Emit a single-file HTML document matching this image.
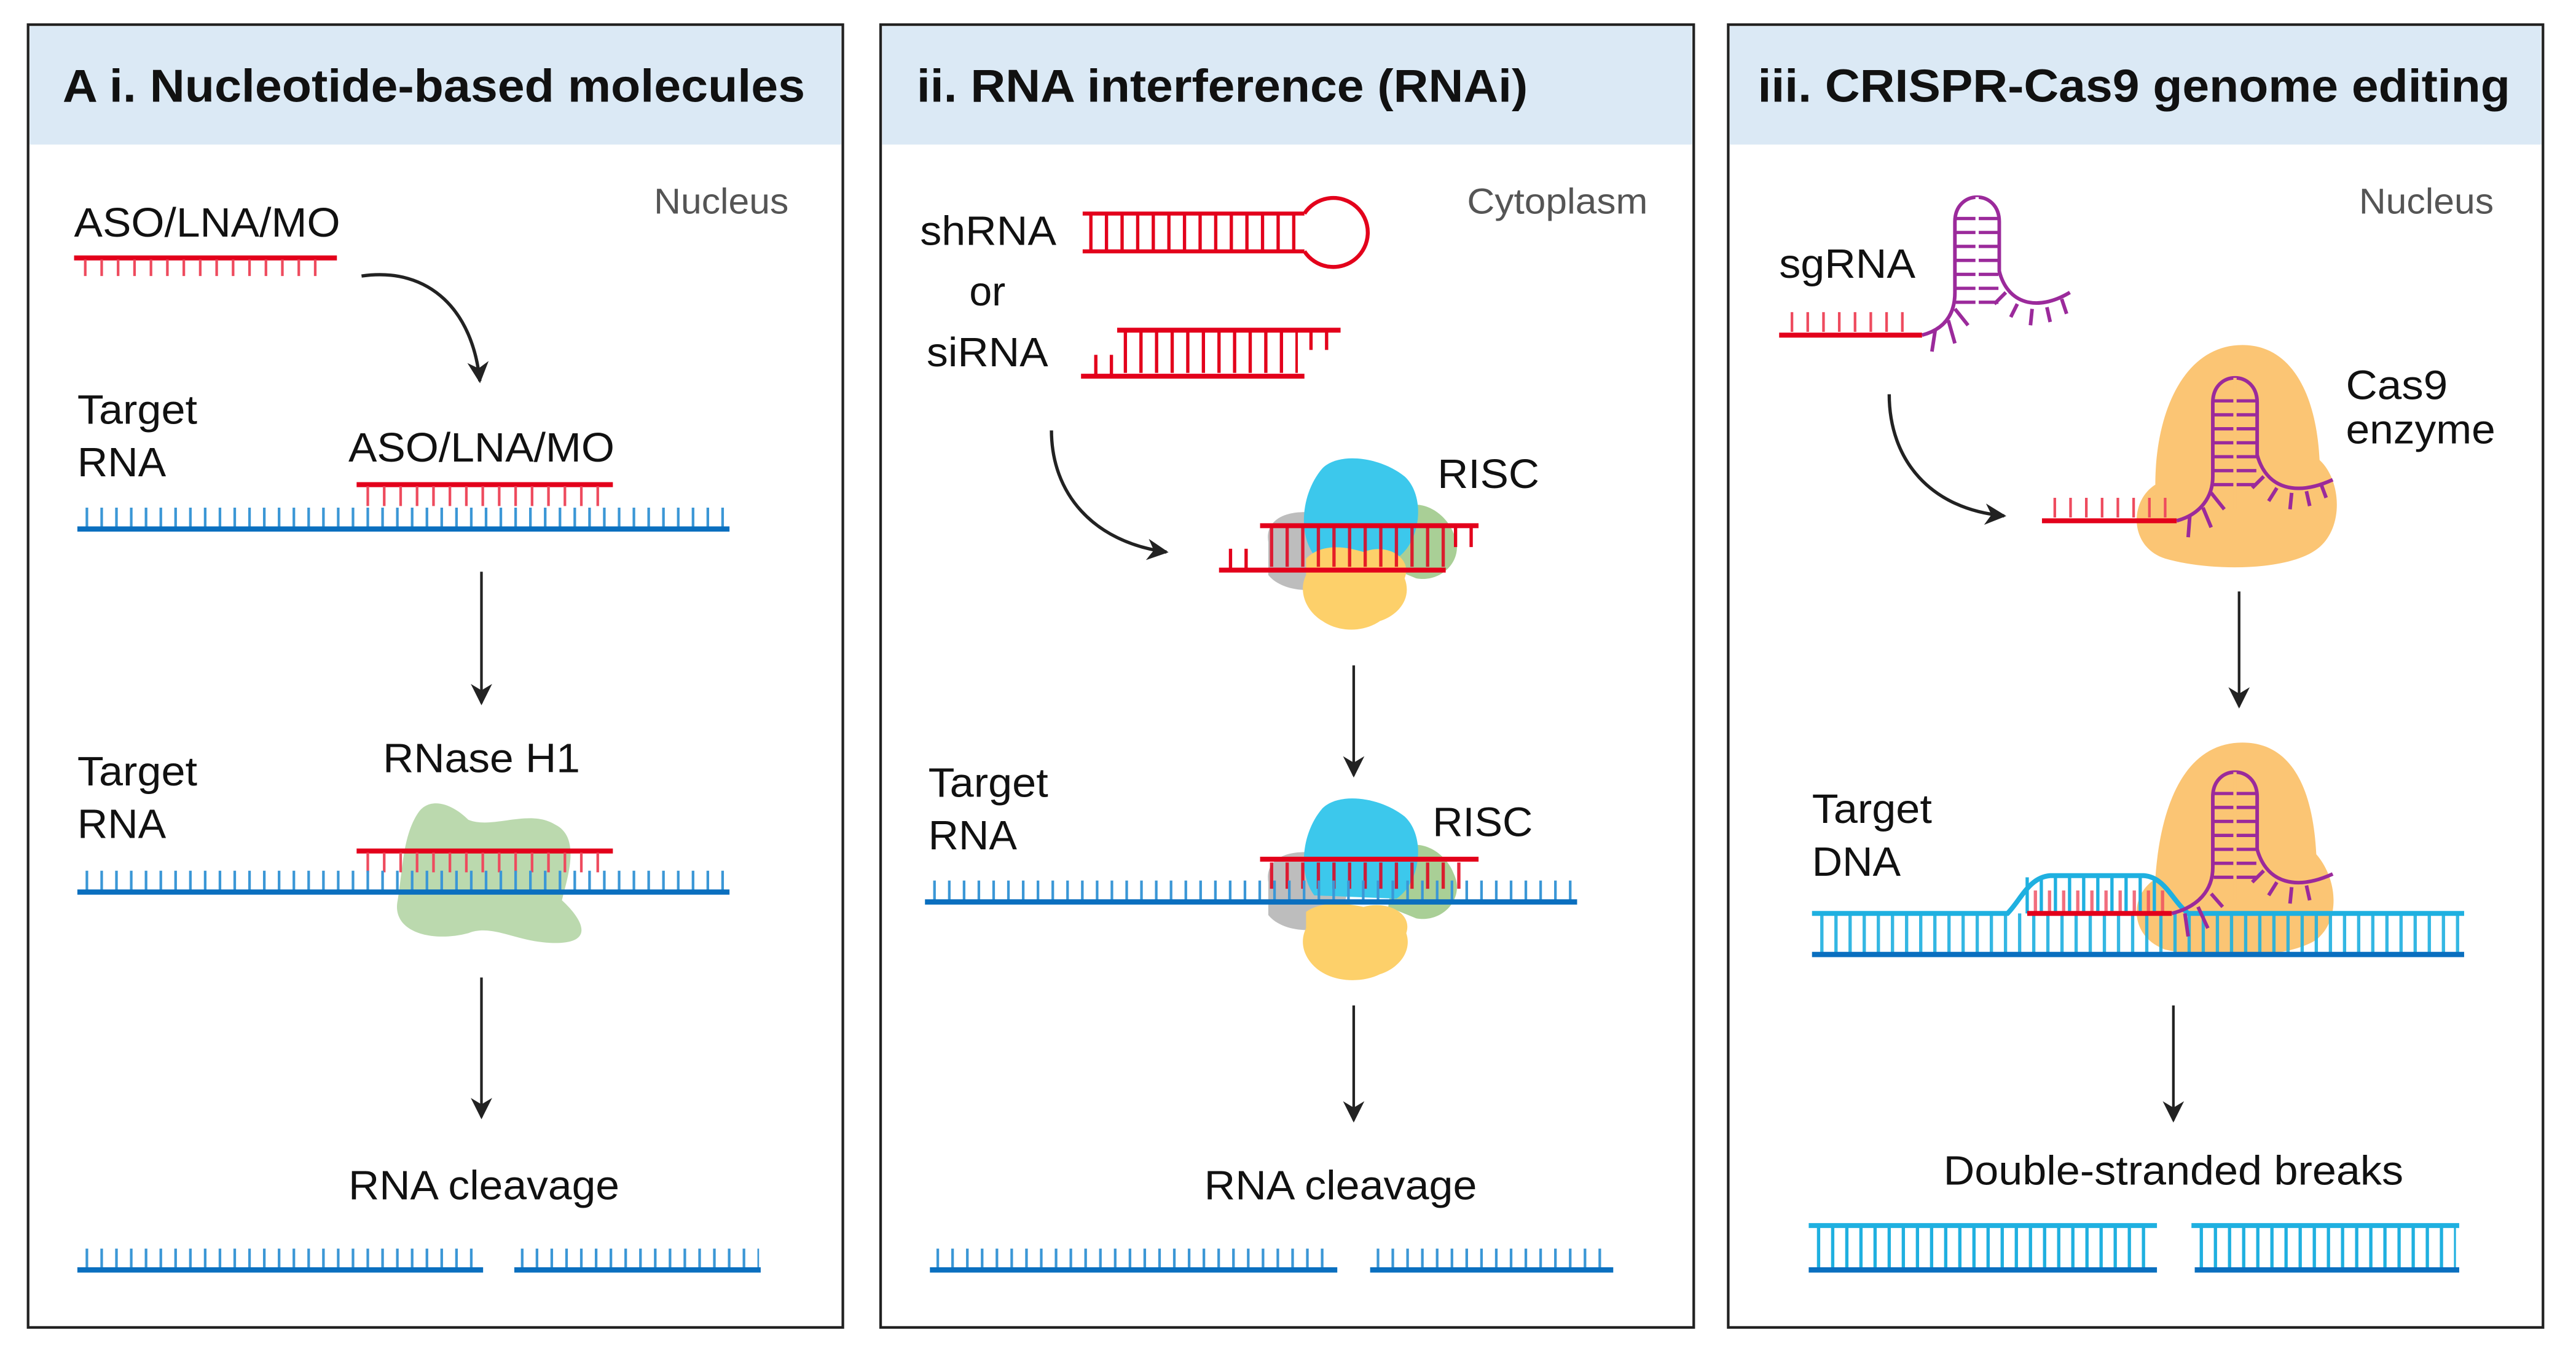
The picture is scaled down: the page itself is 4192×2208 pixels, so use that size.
<!DOCTYPE html>
<html><head><meta charset="utf-8"><style>
html,body{margin:0;padding:0;background:#fff;}
svg{display:block;}
text{font-family:"Liberation Sans",Arial,sans-serif;}
</style></head><body>
<svg width="4192" height="2208" viewBox="0 0 1568 826" xmlns="http://www.w3.org/2000/svg">
<defs>
<marker id="ah2" viewBox="0 0 10 10" refX="9" refY="5" markerWidth="13" markerHeight="13" orient="auto" markerUnits="userSpaceOnUse">
<path d="M0,0 L10,5 L0,10 L3,5 Z" fill="#222"/></marker>
</defs>
<rect width="1568" height="826" fill="#fff"/>

<!-- Panels -->
<g stroke="#222" stroke-width="1.6">
<rect x="17" y="15" width="496" height="793" fill="#fff"/>
<rect x="536" y="15" width="495" height="793" fill="#fff"/>
<rect x="1052" y="15" width="496" height="793" fill="#fff"/>
</g>
<rect x="18" y="16" width="494" height="72" fill="#dbe9f5"/>
<rect x="537" y="16" width="493" height="72" fill="#dbe9f5"/>
<rect x="1053" y="16" width="494" height="72" fill="#dbe9f5"/>
<g font-weight="bold" font-size="28" fill="#111" lengthAdjust="spacingAndGlyphs">
<text x="38" y="62" textLength="452" lengthAdjust="spacingAndGlyphs">A i. Nucleotide-based molecules</text>
<text x="558" y="62" textLength="372" lengthAdjust="spacingAndGlyphs">ii. RNA interference (RNAi)</text>
<text x="1070" y="62" textLength="458" lengthAdjust="spacingAndGlyphs">iii. CRISPR-Cas9 genome editing</text>
</g>
<g font-size="22" fill="#555">
<text x="398" y="130" textLength="82" lengthAdjust="spacingAndGlyphs">Nucleus</text>
<text x="893" y="130" textLength="110" lengthAdjust="spacingAndGlyphs">Cytoplasm</text>
<text x="1436" y="130" textLength="82" lengthAdjust="spacingAndGlyphs">Nucleus</text>
</g>

<!-- ===== Panel 1 ===== -->
<g font-size="25" fill="#111">
<text x="45" y="144" textLength="162" lengthAdjust="spacingAndGlyphs">ASO/LNA/MO</text>
<text x="47" y="258" textLength="73" lengthAdjust="spacingAndGlyphs">Target</text><text x="47" y="290" textLength="54" lengthAdjust="spacingAndGlyphs">RNA</text>
<text x="212" y="281" textLength="162" lengthAdjust="spacingAndGlyphs">ASO/LNA/MO</text>
<text x="47" y="478" textLength="73" lengthAdjust="spacingAndGlyphs">Target</text><text x="47" y="510" textLength="54" lengthAdjust="spacingAndGlyphs">RNA</text>
<text x="233" y="470" textLength="120" lengthAdjust="spacingAndGlyphs">RNase H1</text>
<text x="212" y="730" textLength="165" lengthAdjust="spacingAndGlyphs">RNA cleavage</text>
</g>
<line x1="45" y1="157" x2="205" y2="157" stroke="#e3001b" stroke-width="3"/>
<line x1="51" y1="163" x2="201" y2="163" stroke="#ee4b5e" stroke-width="10" stroke-dasharray="1.6 8.4"/>
<path d="M220 168 C262 162 288 190 292 232" fill="none" stroke="#222" stroke-width="2" marker-end="url(#ah2)"/>
<line x1="217" y1="295" x2="373" y2="295" stroke="#e3001b" stroke-width="3"/>
<line x1="223" y1="302" x2="370" y2="302" stroke="#ee4b5e" stroke-width="12" stroke-dasharray="1.6 8.4"/>
<line x1="52" y1="315" x2="442" y2="315" stroke="#3b97d6" stroke-width="12" stroke-dasharray="1.6 7.4"/>
<line x1="47" y1="322" x2="444" y2="322" stroke="#0a6fbf" stroke-width="3.2"/>
<line x1="293" y1="348" x2="293" y2="428" stroke="#222" stroke-width="1.6" marker-end="url(#ah2)"/>
<path d="M255 494 C262 485 275 489 285 499 C300 505 322 492 338 502 C354 510 345 535 342 548 C355 560 362 574 338 574 C315 574 300 562 285 568 C262 574 238 567 242 548 C245 530 245 508 255 494 Z" fill="#b7d7aa" opacity="0.95"/>
<line x1="217" y1="518" x2="373" y2="518" stroke="#e3001b" stroke-width="3"/>
<line x1="223" y1="525" x2="370" y2="525" stroke="#ee4b5e" stroke-width="12" stroke-dasharray="1.6 8.4"/>
<line x1="52" y1="536" x2="442" y2="536" stroke="#3b97d6" stroke-width="12" stroke-dasharray="1.6 7.4"/>
<line x1="47" y1="543" x2="444" y2="543" stroke="#0a6fbf" stroke-width="3.2"/>
<line x1="293" y1="595" x2="293" y2="680" stroke="#222" stroke-width="1.6" marker-end="url(#ah2)"/>
<line x1="52" y1="766" x2="292" y2="766" stroke="#3b97d6" stroke-width="12" stroke-dasharray="1.6 7.4"/>
<line x1="47" y1="773" x2="294" y2="773" stroke="#0a6fbf" stroke-width="3.2"/>
<line x1="317" y1="766" x2="462" y2="766" stroke="#3b97d6" stroke-width="12" stroke-dasharray="1.6 7.4"/>
<line x1="313" y1="773" x2="463" y2="773" stroke="#0a6fbf" stroke-width="3.2"/>

<!-- ===== Panel 2 ===== -->
<g font-size="25" fill="#111">
<text x="560" y="149" textLength="83" lengthAdjust="spacingAndGlyphs">shRNA</text>
<text x="590" y="186" textLength="22" lengthAdjust="spacingAndGlyphs">or</text>
<text x="564" y="223" textLength="74" lengthAdjust="spacingAndGlyphs">siRNA</text>
<text x="875" y="297" textLength="62" lengthAdjust="spacingAndGlyphs">RISC</text>
<text x="565" y="485" textLength="73" lengthAdjust="spacingAndGlyphs">Target</text><text x="565" y="517" textLength="54" lengthAdjust="spacingAndGlyphs">RNA</text>
<text x="872" y="509" textLength="61" lengthAdjust="spacingAndGlyphs">RISC</text>
<text x="733" y="730" textLength="166" lengthAdjust="spacingAndGlyphs">RNA cleavage</text>
</g>
<g stroke="#e3001b" stroke-width="2.4" fill="none">
<line x1="659" y1="130" x2="794" y2="130"/>
<line x1="659" y1="153" x2="794" y2="153"/>
<path d="M794 130 A21 21 0 1 1 794 153"/>
<line x1="680" y1="201" x2="816" y2="201" stroke-width="3"/>
<line x1="658" y1="229" x2="794" y2="229" stroke-width="3"/>
</g>
<line x1="663" y1="141.5" x2="790" y2="141.5" stroke="#e3001b" stroke-width="22" stroke-dasharray="2 7.5"/>
<line x1="684" y1="214" x2="790" y2="214" stroke="#e3001b" stroke-width="26" stroke-dasharray="2 7.5"/>
<line x1="666" y1="222" x2="680" y2="222" stroke="#e3001b" stroke-width="12" stroke-dasharray="2 7.5"/>
<line x1="797" y1="207" x2="812" y2="207" stroke="#e3001b" stroke-width="12" stroke-dasharray="2 7.5"/>
<path d="M640 262 C640 300 665 330 710 336" fill="none" stroke="#222" stroke-width="2" marker-end="url(#ah2)"/>
<g>
<path d="M772 330 C770 318 780 310 800 312 C812 310 822 318 822 330 L815 355 C800 362 780 360 772 350 Z" fill="#bdbdbd"/>
<path d="M850 310 C865 302 880 312 885 325 C892 340 878 355 862 352 L845 345 Z" fill="#a9cf96"/>
<path d="M805 285 C815 275 840 278 855 290 C868 302 865 330 850 340 L800 338 C790 325 792 300 805 285 Z" fill="#3cc8ec"/>
<path d="M795 340 C805 330 820 333 830 336 C845 330 860 340 855 352 C860 365 850 375 840 378 C830 385 815 385 805 378 C795 372 790 360 795 350 Z" fill="#fdd06a"/>
</g>
<line x1="767" y1="320" x2="900" y2="320" stroke="#e3001b" stroke-width="3"/>
<line x1="773" y1="333" x2="880" y2="333" stroke="#e3001b" stroke-width="24" stroke-dasharray="2 7.5" opacity="0.85"/>
<line x1="885" y1="327" x2="898" y2="327" stroke="#e3001b" stroke-width="12" stroke-dasharray="2 7.5"/>
<line x1="748" y1="340" x2="765" y2="340" stroke="#e3001b" stroke-width="12" stroke-dasharray="2 7.5"/>
<line x1="742" y1="347" x2="880" y2="347" stroke="#e3001b" stroke-width="3"/>
<line x1="824" y1="405" x2="824" y2="472" stroke="#222" stroke-width="1.6" marker-end="url(#ah2)"/>
<g>
<path d="M772 537 C770 525 780 517 800 519 C812 517 822 525 822 537 L815 562 C800 569 780 567 772 557 Z" fill="#bdbdbd"/>
<path d="M850 517 C865 509 880 519 885 532 C892 547 878 562 862 559 L845 552 Z" fill="#a9cf96"/>
<path d="M805 492 C815 482 840 485 855 497 C868 509 865 537 850 547 L800 545 C790 532 792 507 805 492 Z" fill="#3cc8ec"/>
<path d="M795 555 C805 548 820 550 830 552 C845 548 860 556 856 568 C860 580 850 590 840 593 C830 598 815 598 805 592 C795 586 790 575 795 565 Z" fill="#fdd06a"/>
</g>
<line x1="767" y1="523" x2="900" y2="523" stroke="#e3001b" stroke-width="3"/>
<line x1="773" y1="533" x2="893" y2="533" stroke="#e3001b" stroke-width="16" stroke-dasharray="2 7.5" opacity="0.85"/>
<line x1="568" y1="542" x2="958" y2="542" stroke="#3b97d6" stroke-width="12" stroke-dasharray="1.6 7.4"/>
<line x1="563" y1="549" x2="960" y2="549" stroke="#0a6fbf" stroke-width="3.2"/>
<line x1="824" y1="612" x2="824" y2="682" stroke="#222" stroke-width="1.6" marker-end="url(#ah2)"/>
<line x1="570" y1="766" x2="812" y2="766" stroke="#3b97d6" stroke-width="12" stroke-dasharray="1.6 7.4"/>
<line x1="566" y1="773" x2="814" y2="773" stroke="#0a6fbf" stroke-width="3.2"/>
<line x1="838" y1="766" x2="980" y2="766" stroke="#3b97d6" stroke-width="12" stroke-dasharray="1.6 7.4"/>
<line x1="834" y1="773" x2="982" y2="773" stroke="#0a6fbf" stroke-width="3.2"/>

<!-- ===== Panel 3 ===== -->
<g font-size="25" fill="#111">
<text x="1083" y="169" textLength="83" lengthAdjust="spacingAndGlyphs">sgRNA</text>
<text x="1428" y="243" textLength="62" lengthAdjust="spacingAndGlyphs">Cas9</text><text x="1428" y="270" textLength="91" lengthAdjust="spacingAndGlyphs">enzyme</text>
<text x="1103" y="501" textLength="73" lengthAdjust="spacingAndGlyphs">Target</text><text x="1103" y="533" textLength="54" lengthAdjust="spacingAndGlyphs">DNA</text>
<text x="1183" y="721" textLength="280" lengthAdjust="spacingAndGlyphs">Double-stranded breaks</text>
</g>
<line x1="1083" y1="204" x2="1170" y2="204" stroke="#e3001b" stroke-width="3"/>
<line x1="1090" y1="196" x2="1160" y2="196" stroke="#ee4b5e" stroke-width="12" stroke-dasharray="1.6 8"/>
<g stroke="#9b2a9b" stroke-width="2.2" fill="none">
<path d="M1170 204 C1185 200 1190 190 1190 178 L1190 135 C1190 115 1217 115 1217 135 L1217 165 C1222 185 1240 190 1260 178"/>
<path d="M1178 201 L1176 214 M1186 195 L1190 209 M1190 188 L1198 198 M1221 178 L1214 185 M1228 185 L1224 193 M1237 188 L1236 198 M1246 187 L1248 196 M1255 182 L1258 191"/>
</g>
<line x1="1203.5" y1="132" x2="1203.5" y2="188" stroke="#9b2a9b" stroke-width="26" stroke-dasharray="2 6.5"/>
<line x1="1203.5" y1="120" x2="1203.5" y2="200" stroke="#fff" stroke-width="2"/>
<path d="M1150 240 C1150 280 1175 310 1220 314" fill="none" stroke="#222" stroke-width="2" marker-end="url(#ah2)"/>
<path d="M1365 210 C1395 210 1410 240 1412 280 C1425 292 1427 320 1412 333 C1395 348 1345 348 1318 340 C1296 333 1296 305 1312 295 C1312 250 1330 210 1365 210 Z" fill="#fbc574"/>
<line x1="1243" y1="317" x2="1325" y2="317" stroke="#e3001b" stroke-width="3"/>
<line x1="1250" y1="309" x2="1322" y2="309" stroke="#ee4b5e" stroke-width="12" stroke-dasharray="1.6 8"/>
<g stroke="#9b2a9b" stroke-width="2.2" fill="none">
<path d="M1325 317 C1340 313 1347 302 1347 290 L1347 245 C1347 225 1374 225 1374 245 L1374 277 C1380 298 1398 302 1420 292"/>
<path d="M1333 314 L1332 327 M1341 309 L1346 321 M1346 300 L1354 310 M1378 290 L1371 297 M1386 297 L1381 305 M1395 300 L1394 310 M1404 299 L1406 308 M1413 295 L1416 303"/>
</g>
<line x1="1360.5" y1="243" x2="1360.5" y2="298" stroke="#9b2a9b" stroke-width="26" stroke-dasharray="2 6.5"/>
<line x1="1360.5" y1="230" x2="1360.5" y2="310" stroke="#fbc574" stroke-width="2"/>
<line x1="1363" y1="360" x2="1363" y2="430" stroke="#222" stroke-width="1.6" marker-end="url(#ah2)"/>
<path d="M1365 452 C1395 452 1408 480 1410 520 C1423 535 1425 560 1410 572 C1392 584 1345 584 1318 578 C1296 570 1296 545 1312 535 C1315 490 1330 452 1365 452 Z" fill="#fbc574"/>
<line x1="1108" y1="568" x2="1498" y2="568" stroke="#1fb0e0" stroke-width="24" stroke-dasharray="2 6.6" opacity="0.9"/>
<path d="M1103 556 L1222 556 C1230 548 1235 534 1248 533 L1305 533 C1318 534 1322 548 1332 556 L1500 556" fill="none" stroke="#1fb0e0" stroke-width="3"/>
<line x1="1233" y1="545" x2="1318" y2="545" stroke="#1fb0e0" stroke-width="22" stroke-dasharray="2 6.6"/>
<line x1="1238" y1="549" x2="1318" y2="549" stroke="#ee4b5e" stroke-width="14" stroke-dasharray="2 6.6" opacity="0.8"/>
<line x1="1234" y1="556" x2="1322" y2="556" stroke="#e3001b" stroke-width="3"/>
<line x1="1103" y1="581" x2="1500" y2="581" stroke="#0a6fbf" stroke-width="3.2"/>
<g stroke="#9b2a9b" stroke-width="2.2" fill="none">
<path d="M1322 556 C1338 552 1347 542 1347 528 L1347 485 C1347 465 1374 465 1374 485 L1374 517 C1380 538 1398 542 1420 532"/>
<path d="M1330 556 L1332 570 M1338 552 L1344 565 M1346 544 L1353 552 M1378 530 L1371 537 M1386 537 L1381 545 M1395 540 L1394 550 M1404 539 L1406 548"/>
</g>
<line x1="1360.5" y1="482" x2="1360.5" y2="538" stroke="#9b2a9b" stroke-width="26" stroke-dasharray="2 6.5"/>
<line x1="1360.5" y1="470" x2="1360.5" y2="548" stroke="#fbc574" stroke-width="2"/>
<line x1="1323" y1="612" x2="1323" y2="682" stroke="#222" stroke-width="1.6" marker-end="url(#ah2)"/>
<line x1="1106" y1="759" x2="1310" y2="759" stroke="#1fb0e0" stroke-width="26" stroke-dasharray="2 6.6"/>
<line x1="1101" y1="746" x2="1313" y2="746" stroke="#1fb0e0" stroke-width="3"/>
<line x1="1101" y1="773" x2="1313" y2="773" stroke="#0a6fbf" stroke-width="3.2"/>
<line x1="1339" y1="759" x2="1495" y2="759" stroke="#1fb0e0" stroke-width="26" stroke-dasharray="2 6.6"/>
<line x1="1334" y1="746" x2="1497" y2="746" stroke="#1fb0e0" stroke-width="3"/>
<line x1="1336" y1="773" x2="1497" y2="773" stroke="#0a6fbf" stroke-width="3.2"/>
</svg>
</body></html>
